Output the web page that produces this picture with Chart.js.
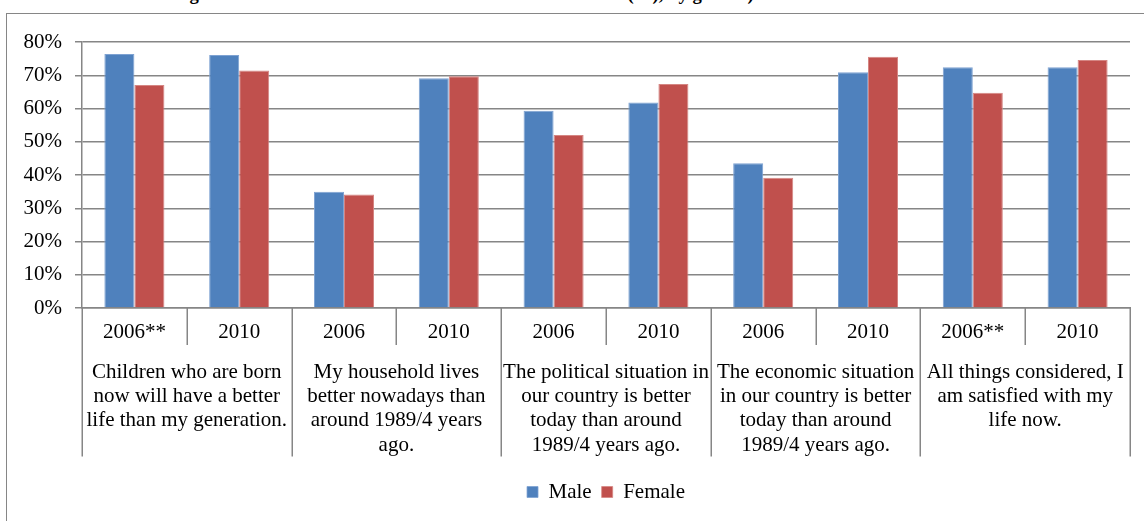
<!DOCTYPE html>
<html>
<head>
<meta charset="utf-8">
<script src="https://cdn.jsdelivr.net/npm/chart.js@4.4.1/dist/chart.umd.min.js"></script>
<style>
  html, body { margin: 0; padding: 0; background: #ffffff; }
  body { width: 1144px; height: 521px; position: relative; overflow: hidden; }
  #title {
    position: absolute; left: 173px; top: -16px; white-space: nowrap;
    font: bold 18.7px "Liberation Serif", "Times New Roman", serif; line-height: 20px; color: #000;
  }
  #frame {
    position: absolute; left: 6px; top: 13px; width: 1200px; height: 600px;
    border-left: 1.5px solid #868686; border-top: 1.5px solid #868686;
  }
  #wrap { position: absolute; left: 0; top: 0; width: 1144px; height: 521px; }
</style>
</head>
<body>
<div id="title">Figure 6: Attitudes towards the transition and the future (%), by gender)</div>
<div id="frame"></div>
<div id="wrap"><canvas id="chart"></canvas></div>
<script>
// Survey year under each statement
const years = ["2006**", "2010", "2006", "2010", "2006", "2010", "2006", "2010", "2006**", "2010"];

// Statements, one per pair of years (pre-wrapped lines)
const statements = [
  ["Children who are born", "now will have a better", "life than my generation."],
  ["My household lives", "better nowadays than", "around 1989/4 years", "ago."],
  ["The political situation in", "our country is better", "today than around", "1989/4 years ago."],
  ["The economic situation", "in our country is better", "today than around", "1989/4 years ago."],
  ["All things considered, I", "am satisfied with my", "life now."]
];

// Share agreeing (%)
const male   = [76.4, 76.1, 35.0, 69.1, 59.3, 61.8, 43.5, 70.9, 72.4, 72.4];
const female = [67.1, 71.4, 34.1, 69.7, 52.0, 67.4, 39.2, 75.6, 64.7, 74.6];

// Value axis ticks
const yTicks = [0, 10, 20, 30, 40, 50, 60, 70, 80];

const serif = '"Liberation Serif", "Times New Roman", serif';
const gridGray = '#868686';
const FONT = 21;

// Vertical dividers of the two-level category axis: short ones between years,
// long ones between statements, placed at the category boundaries of the scales.
const categoryDividers = {
  id: 'categoryDividers',
  afterDraw(chart) {
    const xs = chart.scales.x, x2 = chart.scales.x2;
    const ctx = chart.ctx;
    const shortEnd = xs.bottom - xs.options.ticks.padding;
    const longEnd = x2.bottom - 15;
    ctx.save();
    ctx.strokeStyle = gridGray;
    ctx.lineWidth = 1.5;
    for (let i = 0; i <= years.length; i++) {
      const px = Math.round(xs.getPixelForValue(i - 0.5)) + 0.25;
      ctx.beginPath();
      ctx.moveTo(px, xs.top);
      ctx.lineTo(px, (i % 2 === 0) ? longEnd : shortEnd);
      ctx.stroke();
    }
    ctx.restore();
  }
};

new Chart(document.getElementById('chart'), {
  type: 'bar',
  data: {
    labels: years,
    datasets: [
      { label: 'Male', data: male, backgroundColor: '#4F81BD', borderColor: '#7EA2D2',
        borderWidth: { top: 1, left: 1, right: 1, bottom: 0 }, xAxisID: 'x' },
      { label: 'Female', data: female, backgroundColor: '#C0504D', borderColor: '#D58683',
        borderWidth: { top: 1, left: 1, right: 1, bottom: 0 }, xAxisID: 'x' }
    ]
  },
  plugins: [categoryDividers],
  options: {
    responsive: true,
    maintainAspectRatio: false,
    animation: false,
    layout: { padding: { left: 10.5, right: 14, top: 42, bottom: 8.5 } },
    datasets: { bar: { barPercentage: 1.0, categoryPercentage: 0.573 } },
    plugins: {
      title: { display: false },
      tooltip: { enabled: false },
      legend: {
        position: 'bottom',
        fullSize: false,
        labels: {
          boxWidth: 11, boxHeight: 11, padding: 10, color: '#000',
          font: { family: serif, size: FONT }
        }
      }
    },
    scales: {
      y: {
        min: 0, max: 80,
        afterBuildTicks: (axis) => { axis.ticks = yTicks.map(v => ({ value: v })); },
        ticks: {
          color: '#000', padding: 13,
          font: { family: serif, size: FONT },
          callback: (v) => v + '%'
        },
        grid: { color: gridGray, lineWidth: 1.5, tickLength: 7, drawTicks: true },
        border: { display: true, color: gridGray, width: 1.5 }
      },
      x: {
        type: 'category',
        position: 'bottom',
        offset: true,
        ticks: {
          color: '#000', autoSkip: false, maxRotation: 0, minRotation: 0,
          padding: 11,
          font: { family: serif, size: FONT, lineHeight: 26 / FONT }
        },
        grid: { offset: true, drawOnChartArea: false, drawTicks: false },
        border: { display: true, color: gridGray, width: 1.5 }
      },
      x2: {
        type: 'category',
        position: 'bottom',
        labels: statements,
        offset: true,
        ticks: {
          color: '#000', autoSkip: false, maxRotation: 0, minRotation: 0,
          padding: 4,
          font: { family: serif, size: FONT, lineHeight: 24.3 / FONT }
        },
        grid: { offset: true, drawOnChartArea: false, drawTicks: false },
        border: { display: false },
        title: { display: true, text: '', padding: { top: 9.3, bottom: 0 }, font: { size: 1, lineHeight: 1 } }
      }
    }
  }
});
</script>
</body>
</html>
